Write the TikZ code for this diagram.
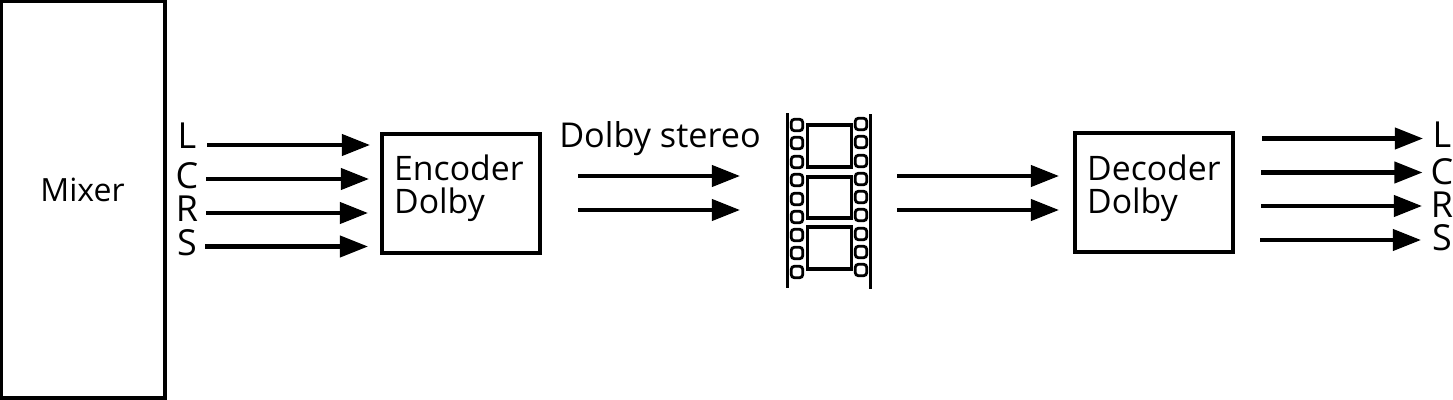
\documentclass[tikz,border=0pt]{standalone}
\usepackage{fontspec}
\setmainfont{Open Sans}
\usetikzlibrary{arrows.meta}
\tikzset{
	unitbox/.style={draw=black,line width=0.04cm,outer sep=0pt,inner sep=0pt},
	unittext/.style={inner sep=0pt,align=left,anchor=west,font=\fontsize{9.6}{9.4}\selectfont},
	chanlabel/.style={inner sep=0pt,anchor=base,font=\fontsize{10.2}{10}\selectfont},
	sigarrow/.style={line width=0.04cm,-{Triangle[length=0.28cm,width=0.21cm]},shorten >=-0.01cm},
	filmedge/.style={line width=0.03cm},
	filmframe/.style={line width=0.03cm},
	filmhole/.style={line width=0.028cm,rounded corners=0.03cm}
}
\begin{document}
\begin{tikzpicture}[x=0.01cm,y=-0.01cm,font=\fontsize{9.1}{9.4}\selectfont]
				%%%%% frame %%%%%
				\useasboundingbox (0,0) rectangle (1453,400);
				\def\hole{5.7}

				\node[unitbox,minimum width=1.64cm,minimum height=3.97cm] (mixer) at (83,199.5) {};
				\node[inner sep=0pt] (mixertext) at (82.5,190) {Mixer};
				\node[unitbox,minimum width=1.58cm,minimum height=1.19cm] (encoder) at (461,193.5) {};
				\node[unittext] (encodertext) at (393.5,188.5) {Encoder\\Dolby};
				\node[unitbox,minimum width=1.58cm,minimum height=1.19cm] (decoder) at (1154,192.5) {};
				\node[unittext] (decodertext) at (1086.5,188.5) {Decoder\\Dolby};
				\node[inner sep=0pt,anchor=base,font=\fontsize{9.73}{10}\selectfont] (stereo) at (660,147) {Dolby stereo};

				% input channels
				\node[chanlabel] (inL) at (187,148) {L};
				\node[chanlabel] (inC) at (187,188.5) {C};
				\node[chanlabel] (inR) at (187,221.5) {R};
				\node[chanlabel] (inS) at (187,255.5) {S};
				\foreach \name/\xa/\xb/\yy in {L/207/369/145,C/206/368/179,R/206/367/213,S/205/367/246.5}{
					\coordinate (a\name) at (\xa,\yy);
					\coordinate (b\name) at (\xb,\yy);
					\draw[sigarrow] (a\name) -- (b\name);
				}

				% output channels
				\node[chanlabel] (outL) at (1442,147) {L};
				\node[chanlabel] (outC) at (1442,184) {C};
				\node[chanlabel] (outR) at (1442,217.5) {R};
				\node[chanlabel] (outS) at (1442,251) {S};
				\foreach \name/\xa/\xb/\yy in {L/1262/1422/138.5,C/1261/1421.5/172.5,R/1261/1421/206,S/1260/1420/240}{
					\coordinate (c\name) at (\xa,\yy);
					\coordinate (d\name) at (\xb,\yy);
					\draw[sigarrow] (c\name) -- (d\name);
				}

				% stereo pair, both sides of the film
				\foreach \name/\xa/\xb/\yy in {e/578/739/176,f/578/739/210,g/897/1058/176,h/897/1058/210}{
					\coordinate (s\name) at (\xa,\yy);
					\coordinate (t\name) at (\xb,\yy);
					\draw[sigarrow] (s\name) -- (t\name);
				}

				% film strip
				\draw[filmedge] (787,113) -- (787,288);
				\draw[filmedge] (870,114) -- (870,289);
				\draw[filmframe] (807,125) rectangle (851,167);
				\draw[filmframe] (807,177) rectangle (851,218);
				\draw[filmframe] (807,227) rectangle (851,269);
				\foreach \yy in {125,143,162,180,199,217,235,253,272}
					\draw[filmhole] (797-\hole,\yy-\hole) rectangle (797+\hole,\yy+\hole);
				\foreach \yy in {124,142,161,179,197,215,234,252,270}
					\draw[filmhole] (861-\hole,\yy-\hole) rectangle (861+\hole,\yy+\hole);
\end{tikzpicture}
\end{document}
